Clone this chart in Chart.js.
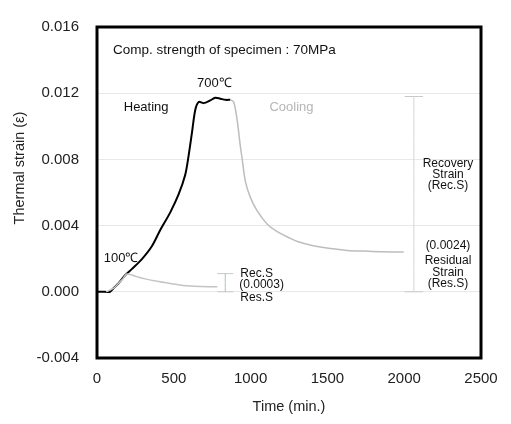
<!DOCTYPE html>
<html>
<head>
<meta charset="utf-8">
<script src="https://cdn.jsdelivr.net/npm/chart.js@4/dist/chart.umd.min.js"></script>
<style>
  html, body { margin: 0; padding: 0; background: #fff; }
  #wrap { width: 511px; height: 424px; position: relative; }
</style>
</head>
<body>
<div id="wrap"><canvas id="strainChart"></canvas></div>
<script>
// heating branch up to 700C (time in min, strain)
const heatTime   = [0, 52, 85, 106, 139, 183, 226, 291, 357, 411, 477, 531, 574, 596, 618, 640, 662, 694, 738, 770, 803, 835, 868];
const heatStrain = [0, 0, 0, 0.0002, 0.0005, 0.001, 0.00137, 0.00196, 0.00275, 0.00372, 0.0048, 0.00588, 0.00706, 0.0082, 0.0096, 0.011, 0.01147, 0.0114, 0.01157, 0.01173, 0.01167, 0.0116, 0.0116];

// cooling from 700C
const coolTime   = [868, 890, 912, 933, 944, 966, 999, 1042, 1107, 1173, 1255, 1305, 1400, 1521, 1630, 1736, 1850, 1997];
const coolStrain = [0.0116, 0.01147, 0.0104, 0.00882, 0.0081, 0.00667, 0.00569, 0.0049, 0.0041, 0.00363, 0.00324, 0.00304, 0.0028, 0.00261, 0.0025, 0.00246, 0.00242, 0.0024];

// cooling from 100C
const cool100Time   = [60, 106, 139, 170, 193, 250, 313, 400, 487, 561, 680, 783];
const cool100Strain = [0, 0.0002, 0.0005, 0.0008, 0.00108, 0.00094, 0.00078, 0.00062, 0.00049, 0.00038, 0.00032, 0.0003];

// bracket for recovery / residual strain
const bigBarTime = 2063;
const bigBarLow = 0, bigBarHigh = 0.0118;
const smallBarTime = 835;
const smallBarLow = 0, smallBarHigh = 0.0011;

const xTicks = [0, 500, 1000, 1500, 2000, 2500];
const yTicks = [-0.004, 0, 0.004, 0.008, 0.012, 0.016];

const FONT = "'Liberation Sans', Arial, sans-serif";

function pts(xs, ys) { return xs.map((x, i) => ({ x: x, y: ys[i] })); }
function vBar(t, lo, hi) { return [{ x: t, y: lo }, { x: t, y: hi }]; }
function hTick(t, half, v) { return [{ x: t - half, y: v }, { x: t + half, y: v }]; }

const lineDs = (data, color, width) => ({
  data: data, borderColor: color, borderWidth: width, showLine: true,
  pointRadius: 0, tension: 0.3, fill: false
});

const notes = [
  { t: 104, s: 0.01459, text: 'Comp. strength of specimen : 70MPa', align: 'left', size: 13.5, color: '#111' },
  { t: 764, s: 0.01259, text: '700\u2103', align: 'center', size: 13, color: '#111' },
  { t: 320, s: 0.01112, text: 'Heating', align: 'center', size: 13, color: '#111' },
  { t: 1266, s: 0.01112, text: 'Cooling', align: 'center', size: 13, color: '#b5b5b5' },
  { t: 157, s: 0.0020, text: '100\u2103', align: 'center', size: 13, color: '#111' },
  { t: 933, s: 0.00112, text: 'Rec.S', align: 'left', size: 12, color: '#111' },
  { t: 926, s: 0.00041, text: '(0.0003)', align: 'left', size: 12, color: '#111' },
  { t: 933, s: -0.00035, text: 'Res.S', align: 'left', size: 12, color: '#111' },
  { t: 2285, s: 0.00776, text: 'Recovery', align: 'center', size: 12, color: '#111' },
  { t: 2285, s: 0.00706, text: 'Strain', align: 'center', size: 12, color: '#111' },
  { t: 2285, s: 0.00641, text: '(Rec.S)', align: 'center', size: 12, color: '#111' },
  { t: 2285, s: 0.00276, text: '(0.0024)', align: 'center', size: 12, color: '#111' },
  { t: 2285, s: 0.00188, text: 'Residual', align: 'center', size: 12, color: '#111' },
  { t: 2285, s: 0.00118, text: 'Strain', align: 'center', size: 12, color: '#111' },
  { t: 2285, s: 0.00047, text: '(Res.S)', align: 'center', size: 12, color: '#111' }
];

const notesPlugin = {
  id: 'notes',
  afterDatasetsDraw(chart) {
    const { ctx, scales: { x, y } } = chart;
    ctx.save();
    ctx.textBaseline = 'middle';
    notes.forEach(n => {
      ctx.font = n.size + 'px ' + FONT;
      ctx.fillStyle = n.color;
      ctx.textAlign = n.align;
      ctx.fillText(n.text, x.getPixelForValue(n.t), y.getPixelForValue(n.s));
    });
    // y axis title, sits a little above the middle in the original
    ctx.translate(20, 168);
    ctx.rotate(-Math.PI / 2);
    ctx.textAlign = 'center';
    ctx.fillStyle = '#222';
    ctx.font = '14.5px ' + FONT;
    ctx.fillText('Thermal strain (\u03b5)', 0, 0);
    ctx.restore();
  },
  afterDraw(chart) {
    const a = chart.chartArea;
    const ctx = chart.ctx;
    ctx.save();
    ctx.strokeStyle = '#000';
    ctx.lineWidth = 3;
    ctx.strokeRect(a.left, a.top, a.right - a.left, a.bottom - a.top);
    ctx.restore();
  }
};

const ctx = document.getElementById('strainChart');
const chart = new Chart(ctx, {
  type: 'scatter',
  data: {
    datasets: [
      lineDs(pts(cool100Time, cool100Strain), '#c4c4c4', 1.5),
      lineDs(pts(coolTime, coolStrain), '#bdbdbd', 1.5),
      lineDs(pts(heatTime, heatStrain), '#000', 2),
      lineDs(vBar(bigBarTime, bigBarLow, bigBarHigh), '#d6d6d6', 1),
      lineDs(hTick(bigBarTime, 60, bigBarHigh), '#c8c8c8', 1),
      lineDs(hTick(bigBarTime, 60, bigBarLow), '#c8c8c8', 1),
      lineDs(vBar(smallBarTime, smallBarLow, smallBarHigh), '#a9c3c8', 1),
      lineDs(hTick(smallBarTime, 52, smallBarHigh), '#c8c8c8', 1),
      lineDs(hTick(smallBarTime, 52, smallBarLow), '#c8c8c8', 1)
    ]
  },
  options: {
    responsive: true,
    maintainAspectRatio: false,
    animation: false,
    layout: { padding: { left: 0, right: 30, top: 17, bottom: 0 } },
    plugins: { legend: { display: false }, tooltip: { enabled: false } },
    scales: {
      x: {
        type: 'linear',
        min: 0, max: 2500,
        afterBuildTicks: s => { s.ticks = xTicks.map(v => ({ value: v })); },
        afterFit: s => { s.height = 66; },
        grid: { display: false, drawTicks: false },
        border: { display: false },
        ticks: { padding: 12, color: '#222', font: { family: FONT, size: 15 }, callback: v => String(v) },
        title: { display: true, text: 'Time (min.)', color: '#222', font: { family: FONT, size: 14.5 }, padding: { top: 4, bottom: 8 } }
      },
      y: {
        type: 'linear',
        min: -0.004, max: 0.016,
        afterBuildTicks: s => { s.ticks = yTicks.map(v => ({ value: v })); },
        afterFit: s => { s.width = 97; },
        grid: { color: '#e8e8e8', lineWidth: 1, drawTicks: false },
        border: { display: false },
        ticks: { padding: 18, color: '#222', font: { family: FONT, size: 15 }, callback: v => v.toFixed(3) },
        title: { display: false }
      }
    }
  },
  plugins: [notesPlugin]
});
</script>
</body>
</html>
